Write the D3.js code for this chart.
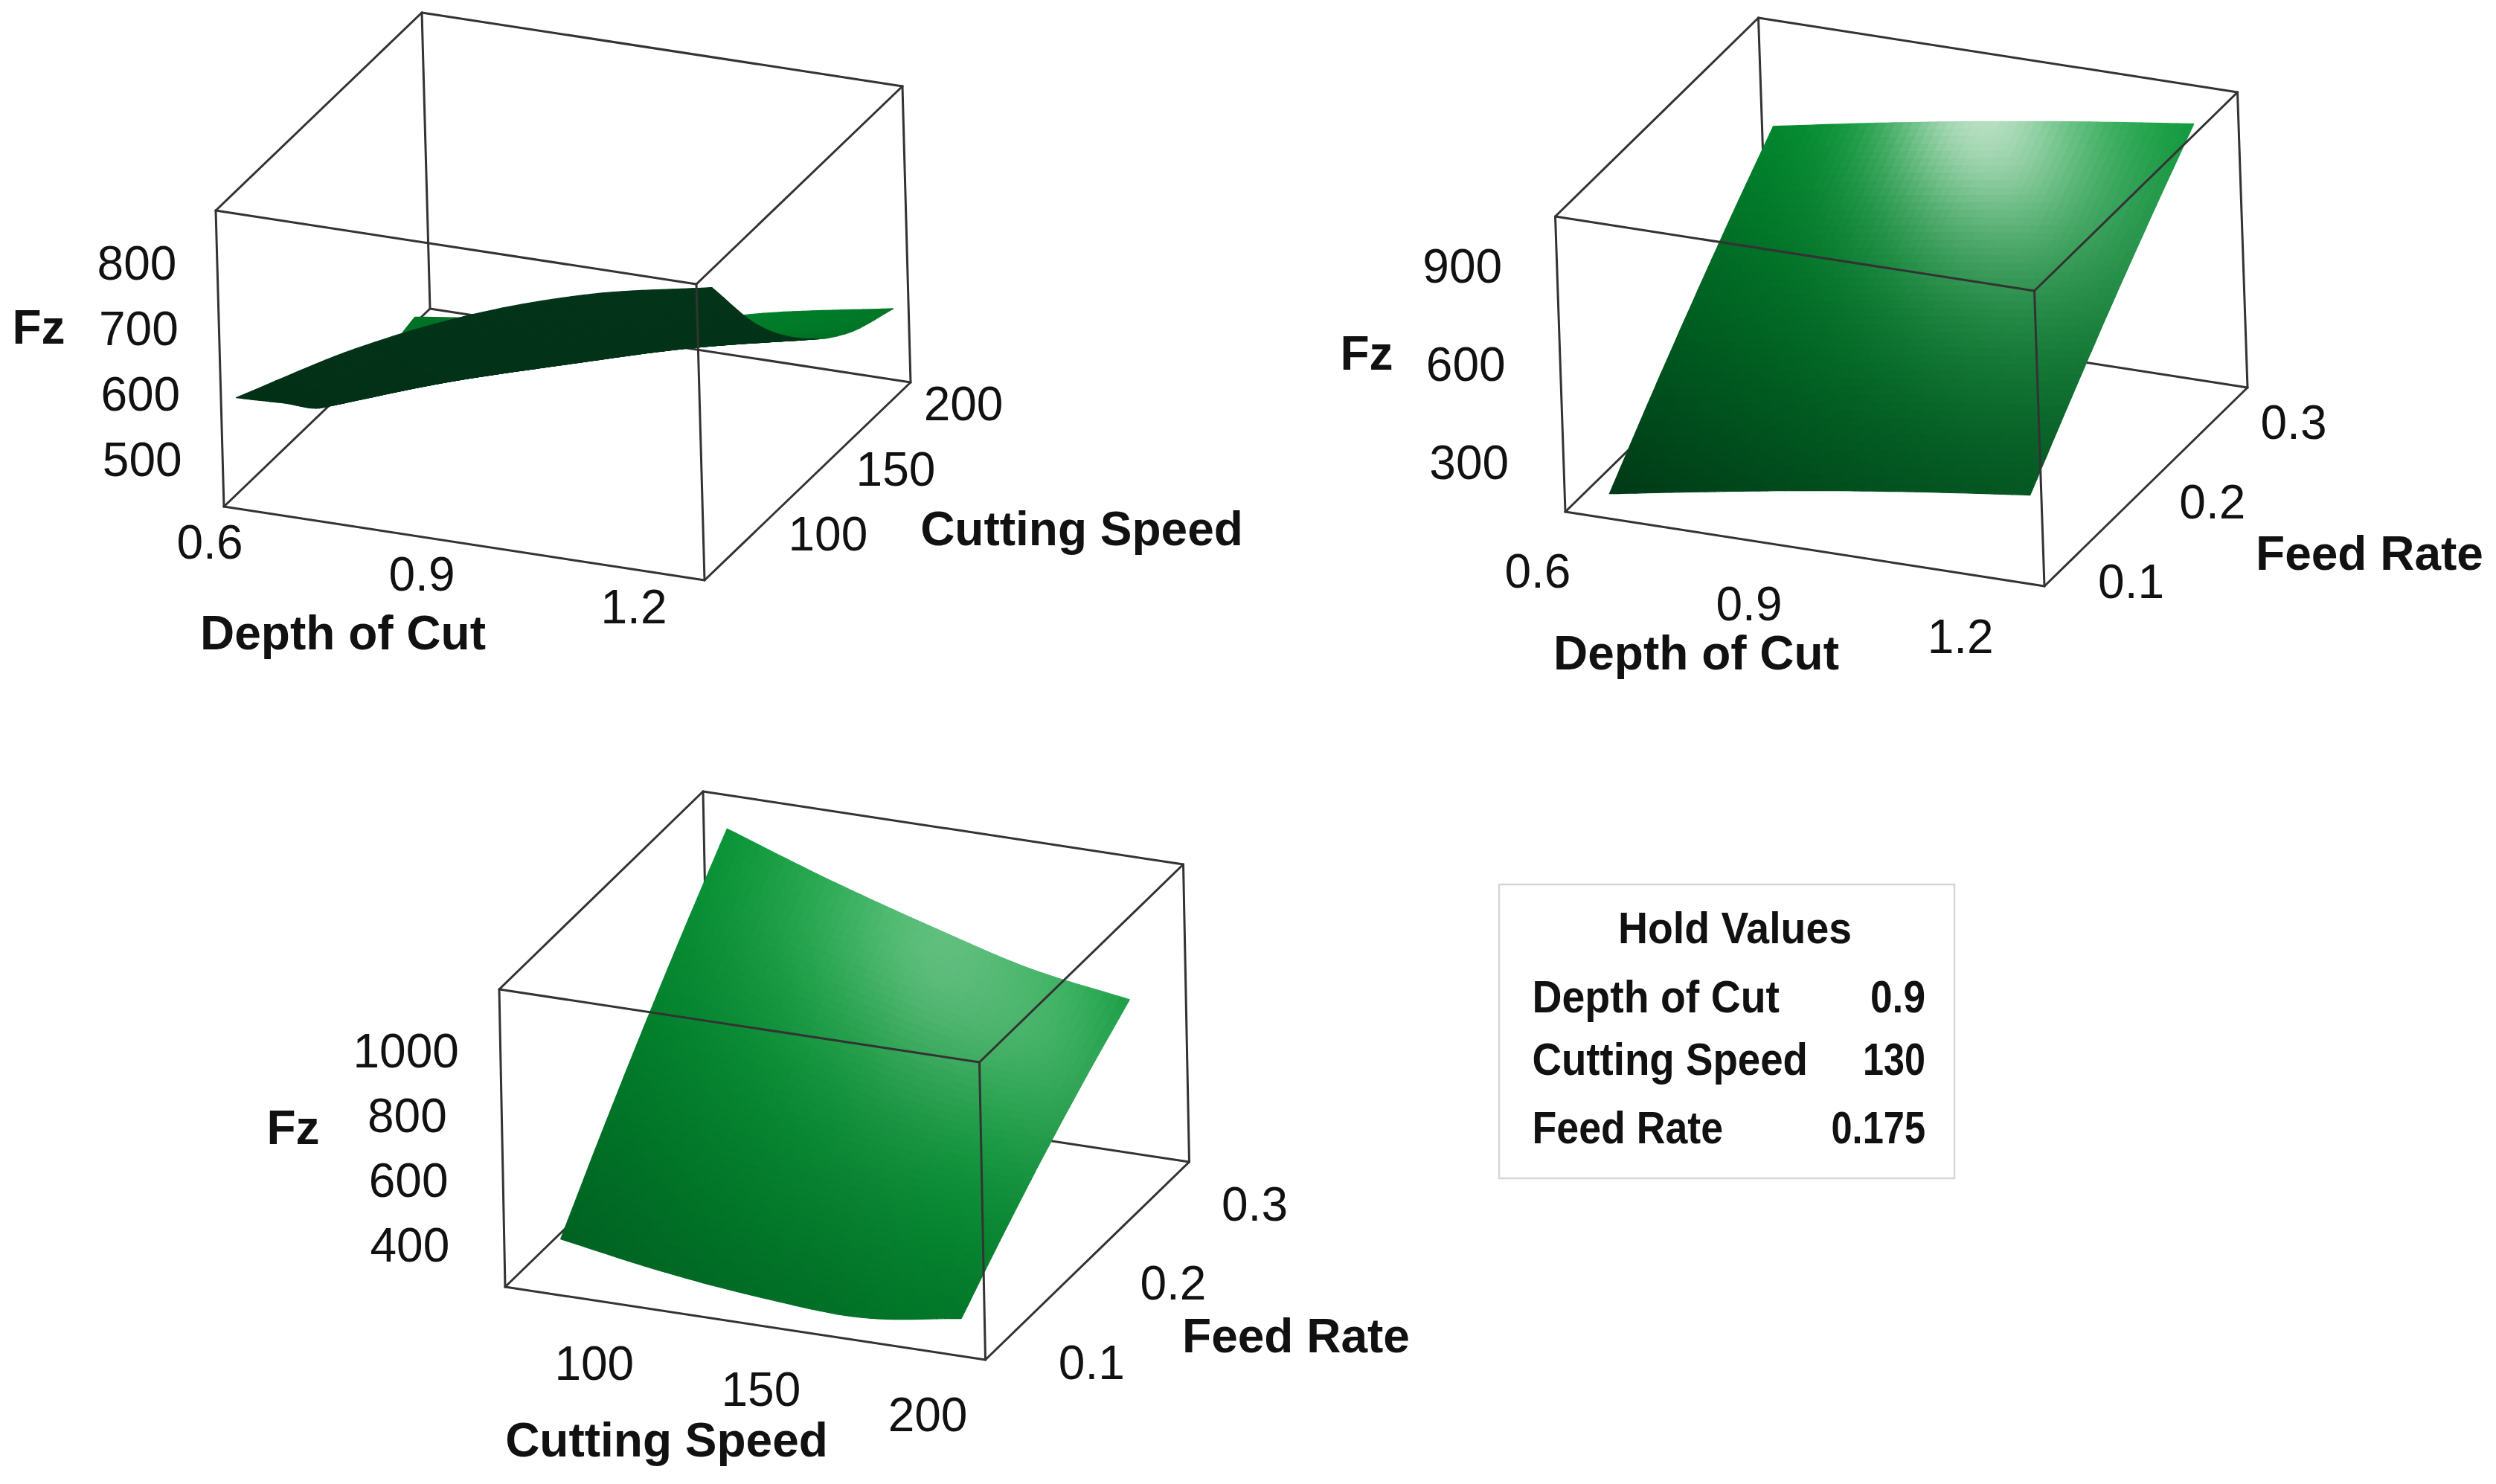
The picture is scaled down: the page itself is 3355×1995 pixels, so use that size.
<!DOCTYPE html>
<html><head><meta charset="utf-8">
<script src="https://cdn.jsdelivr.net/npm/d3@7"></script>
<style>html,body{margin:0;padding:0;background:#fff}svg{display:block}</style>
</head><body>
<svg id="chart" width="3355" height="1995"></svg>
<script>
// ---------------- DATA ----------------
// Panel A: Fz vs Depth of Cut (columns) and Cutting Speed (rows), Feed Rate held at 0.175
const depthGridA = [0.56, 0.73, 0.90, 1.07, 1.24];
const speedGridA = [65, 97.5, 130, 162.5, 195];
const fzA = [
  [572, 674, 755, 814, 852],
  [500, 563, 624, 683, 730],
  [430, 495, 550, 603, 645],
  [420, 466, 508, 553, 590],
  [437, 462, 484, 528, 562]
];
// Panel B: Fz vs Depth of Cut (columns) and Feed Rate (rows), Cutting Speed held at 130
const depthGridB = [0.6, 0.75, 0.9, 1.05, 1.2];
const feedGridB = [0.07, 0.1225, 0.175, 0.2275, 0.28];
const fzB = [
  [167, 224, 277, 323, 364],
  [332, 389, 443, 490, 531],
  [489, 548, 602, 649, 692],
  [639, 698, 752, 801, 844],
  [781, 841, 896, 945, 989]
];
// Panel C: Fz vs Cutting Speed (columns) and Feed Rate (rows), Depth of Cut held at 0.9
const speedGridC = [70, 100, 130, 160, 190];
const feedGridC = [0.07, 0.1225, 0.175, 0.2275, 0.28];
const fzC = [
  [386, 334, 299, 284, 328],
  [590, 524, 474, 441, 461],
  [784, 704, 638, 588, 585],
  [968, 873, 793, 724, 698],
  [1142, 1033, 937, 851, 801]
];
// Tick labels
const depthTicks = [0.6, 0.9, 1.2];
const speedTicks = [100, 150, 200];
const feedTicks = [0.1, 0.2, 0.3];
const fzTicksA = [500, 600, 700, 800];
const fzTicksB = [300, 600, 900];
const fzTicksC = [400, 600, 800, 1000];
// Hold values table
const holdTitle = "Hold Values";
const holdNames = ["Depth of Cut", "Cutting Speed", "Feed Rate"];
const holdValues = ["0.9", "130", "0.175"];

// ---------------- LAYOUT / STYLE ----------------
const panels = [
  {xName:"Depth of Cut", yName:"Cutting Speed", xGrid:depthGridA, yGrid:speedGridA, fz:fzA,
   xDom:[0.56,1.24], yDom:[54,206], zDom:[428,879],
   xTicks:depthTicks, yTicks:speedTicks, zTicks:fzTicksA,
   O:[301,681], ex:[646,99], ey:[277,-266], ez:[-11,-398],
   xLab:[-57,41], yLab:[82,18], zLabDx:-108,
   xTitle:[461,873], yTitle:[1454,733], zTitle:[52,462],
   glow:[0.6,1,1.5], glowD:1300, specLight:[0.55,0.45,2.0], shin:45, ks:0.15, specD:2000},
  {xName:"Depth of Cut", yName:"Feed Rate", xGrid:depthGridB, yGrid:feedGridB, fz:fzB,
   xDom:[0.56,1.24], yDom:[0.05,0.30], zDom:[147,1051],
   xTicks:depthTicks, yTicks:feedTicks, zTicks:fzTicksB,
   O:[2104,688], ex:[644,100], ey:[273,-267], ez:[-13.5,-397],
   xLab:[-75,73], yLab:[62,46], zLabDx:-127,
   xTitle:[2280,900], yTitle:[3185,766], zTitle:[1837,497],
   glow:[0.615,1,1.72], glowD:1265, specLight:[0.16,1.08,1.6], shin:30, ks:1.0, specD:680},
  {xName:"Cutting Speed", yName:"Feed Rate", xGrid:speedGridC, yGrid:feedGridC, fz:fzC,
   xDom:[58,202], yDom:[0.05,0.30], zDom:[268,1190],
   xTicks:speedTicks, yTicks:feedTicks, zTicks:fzTicksC,
   O:[679,1730], ex:[645.5,98], ey:[274,-266], ez:[-8,-400],
   xLab:[-68.5,74], yLab:[88,56], zLabDx:-127,
   xTitle:[896,1958], yTitle:[1742,1818], zTitle:[394,1538],
   glow:[0.49,1,1.23], glowD:1500, specLight:[0.62,0.93,1.63], shin:20, ks:0.78, specD:480}
];
const TICK_FONT = 64, TITLE_FONT = 64;
const FONT = "'Liberation Sans', Arial, Helvetica, sans-serif";
const NARROW = "'Liberation Sans Narrow', 'Arial Narrow', 'Liberation Sans', Arial, sans-serif";
const LINE = "#333", LW = 3;
const AMB = [0, 26, 14], DIFF = [0, 188, 52], HL = [212, 234, 217];
const BACK = [3, 50, 24];
const LDIR = (()=>{const v=[-0.4,-0.8,0.45];const l=Math.hypot(...v);return v.map(x=>x/l);})();

// ---------------- helpers ----------------
const sub=(a,b)=>[a[0]-b[0],a[1]-b[1],a[2]-b[2]];
const add=(a,b)=>[a[0]+b[0],a[1]+b[1],a[2]+b[2]];
const dot=(a,b)=>a[0]*b[0]+a[1]*b[1]+a[2]*b[2];
const cross=(a,b)=>[a[1]*b[2]-a[2]*b[1],a[2]*b[0]-a[0]*b[2],a[0]*b[1]-a[1]*b[0]];
const nrm=a=>{const l=Math.hypot(a[0],a[1],a[2])||1;return [a[0]/l,a[1]/l,a[2]/l];};
function catmull(p0,p1,p2,p3,t){const t2=t*t,t3=t2*t;return 0.5*((2*p1)+(-p0+p2)*t+(2*p0-5*p1+4*p2-p3)*t2+(-p0+3*p1-3*p2+p3)*t3);}
function sample1(arr,s){
  const n=arr.length;let i=Math.floor(s);if(i>n-2)i=n-2;if(i<0)i=0;const t=s-i;
  const g=k=>k<0?2*arr[0]-arr[1]:(k>n-1?2*arr[n-1]-arr[n-2]:arr[k]);
  return catmull(g(i-1),g(i),g(i+1),g(i+2),t);
}
function sample2(grid,r,c){return sample1(grid.map(row=>sample1(row,c)),r);}
const clamp=v=>Math.max(0,Math.min(255,Math.round(v)));

const svg=d3.select("#chart");
svg.append("rect").attr("width",3355).attr("height",1995).attr("fill","#fff");

panels.forEach(p=>{
  const g=svg.append("g");
  const sx=d3.scaleLinear().domain(p.xDom).range([0,1]);
  const sy=d3.scaleLinear().domain(p.yDom).range([0,1]);
  const sz=d3.scaleLinear().domain(p.zDom).range([0,1]);
  const a=p.ex,b=p.ey,c=p.ez;
  const ab=a[0]*b[0]+a[1]*b[1],ac=a[0]*c[0]+a[1]*c[1],bc=b[0]*c[0]+b[1]*c[1];
  const za=Math.sqrt(Math.max(1e-6,-ab*ac/bc)),zb=-ab/za,zc=-ac/za;
  const A3=[a[0],a[1],za],B3=[b[0],b[1],zb],C3=[c[0],c[1],zc];
  const P=(u,v,w)=>[p.O[0]+u*A3[0]+v*B3[0]+w*C3[0],p.O[1]+u*A3[1]+v*B3[1]+w*C3[1],u*A3[2]+v*B3[2]+w*C3[2]];
  const toS=(x,y,z)=>P(sx(x),sy(y),sz(z));

  // box
  const key=k=>k.join("");
  const cn={};
  [[0,0,0],[1,0,0],[0,1,0],[1,1,0],[0,0,1],[1,0,1],[0,1,1],[1,1,1]].forEach(k=>cn[key(k)]=P(...k));
  const edges=[["000","100"],["100","110"],["110","010"],["010","000"],["001","101"],["101","111"],["111","011"],["011","001"],["000","001"],["100","101"],["110","111"],["010","011"]];
  const hidden="010";
  const drawEdges=(list,cls)=>g.append("g").attr("class",cls).selectAll("line").data(list).join("line")
    .attr("x1",e=>cn[e[0]][0]).attr("y1",e=>cn[e[0]][1]).attr("x2",e=>cn[e[1]][0]).attr("y2",e=>cn[e[1]][1])
    .attr("stroke",LINE).attr("stroke-width",LW).attr("stroke-linecap","round");
  drawEdges(edges.filter(e=>e.includes(hidden)),"back-edges");

  // surface mesh
  const N=48,nr=p.fz.length,nc=p.fz[0].length;
  const verts=[];
  for(let i=0;i<=N;i++){
    const r=i/N*(nr-1);const yv=sample1(p.yGrid,r);const row=[];
    for(let j=0;j<=N;j++){const cc=j/N*(nc-1);row.push(toS(sample1(p.xGrid,cc),yv,sample2(p.fz,r,cc)));}
    verts.push(row);
  }
  const Q=P(...p.glow),Ls=P(...p.specLight),V=[0,0,1];
  const quads=[];
  for(let i=0;i<N;i++)for(let j=0;j<N;j++){
    const q=[verts[i][j],verts[i][j+1],verts[i+1][j+1],verts[i+1][j]];
    let n=nrm(cross(sub(q[2],q[0]),sub(q[3],q[1])));
    if(dot(n,C3)<0)n=[-n[0],-n[1],-n[2]];
    const front=n[2]>0;
    const cen=[0,1,2].map(k=>(q[0][k]+q[1][k]+q[2][k]+q[3][k])/4);
    const gfall=Math.max(0,1-Math.hypot(cen[0]-Q[0],cen[1]-Q[1])/p.glowD);
    let col;
    if(front){
      const ndl=Math.max(0,dot(n,LDIR));
      const toL=sub(Ls,cen),dl=Math.hypot(...toL);
      const H=nrm(add(nrm(toL),V));
      const sAtt=1/(1+Math.pow(dl/p.specD,4));
      const s=Math.min(1,p.ks*sAtt*Math.pow(Math.max(0,dot(n,H)),p.shin));
      const base=[0,1,2].map(k=>AMB[k]+DIFF[k]*ndl*gfall);
      col=[0,1,2].map(k=>base[k]*(1-s)+HL[k]*s);
    }else{
      col=BACK.map((v,k)=>v*(0.9+0.25*gfall));
    }
    quads.push({q,z:cen[2],col:d3.rgb(clamp(col[0]),clamp(col[1]),clamp(col[2])).formatHex()});
  }
  quads.sort((m,n)=>m.z-n.z);
  g.append("g").attr("class","surface").selectAll("path").data(quads).join("path")
    .attr("d",d=>"M"+d.q.map(v=>v[0].toFixed(1)+","+v[1].toFixed(1)).join("L")+"Z")
    .attr("fill",d=>d.col).attr("stroke",d=>d.col).attr("stroke-width",1.3).attr("stroke-linejoin","round");

  drawEdges(edges.filter(e=>!e.includes(hidden)),"front-edges");

  // tick labels
  const cap=TICK_FONT*0.358;
  const tl=g.append("g").attr("font-family",FONT).attr("font-size",TICK_FONT).attr("fill","#111").attr("text-anchor","middle");
  p.zTicks.forEach(t=>{const pt=P(0,0,sz(t));tl.append("text").attr("x",pt[0]+p.zLabDx).attr("y",pt[1]+cap).text(String(t));});
  p.xTicks.forEach(t=>{const pt=P(sx(t),0,0);tl.append("text").attr("x",pt[0]+p.xLab[0]).attr("y",pt[1]+p.xLab[1]+cap).text(String(t));});
  p.yTicks.forEach(t=>{const pt=P(1,sy(t),0);tl.append("text").attr("x",pt[0]+p.yLab[0]).attr("y",pt[1]+p.yLab[1]+cap).text(String(t));});
  // titles
  const tt=g.append("g").attr("font-family",FONT).attr("font-size",TITLE_FONT).attr("font-weight","bold").attr("fill","#111").attr("text-anchor","middle");
  tt.append("text").attr("x",p.xTitle[0]).attr("y",p.xTitle[1]).text(p.xName);
  tt.append("text").attr("x",p.yTitle[0]).attr("y",p.yTitle[1]).text(p.yName);
  tt.append("text").attr("x",p.zTitle[0]).attr("y",p.zTitle[1]).text("Fz");
});

// Hold values box
const hv=svg.append("g").attr("font-family",NARROW).attr("font-weight","bold").attr("fill","#111");
hv.append("rect").attr("x",2015).attr("y",1189).attr("width",612).attr("height",395).attr("fill","#fff").attr("stroke","#d6d6d6").attr("stroke-width",2.5);
hv.append("text").attr("x",2332).attr("y",1268).attr("text-anchor","middle").attr("font-size",60)
  .attr("textLength",314).attr("lengthAdjust","spacingAndGlyphs").text(holdTitle);
const rowY=[1360.5,1444.7,1537], nameW=[332.5,370.5,256.5], valW=[74,84,126.5];
holdNames.forEach((nm,i)=>{
  hv.append("text").attr("x",2059.5).attr("y",rowY[i]).attr("font-size",62)
    .attr("textLength",nameW[i]).attr("lengthAdjust","spacingAndGlyphs").text(nm);
  hv.append("text").attr("x",2588-valW[i]).attr("y",rowY[i]).attr("font-size",62)
    .attr("textLength",valW[i]).attr("lengthAdjust","spacingAndGlyphs").text(holdValues[i]);
});
</script>
</body></html>
